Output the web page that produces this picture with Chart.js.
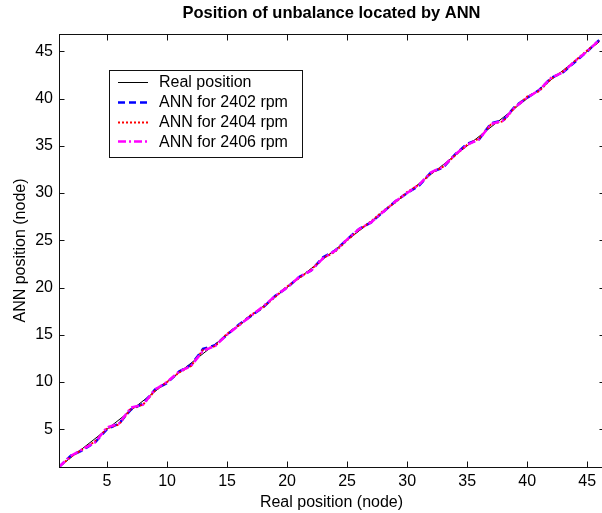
<!DOCTYPE html>
<html>
<head>
<meta charset="utf-8">
<script src="https://cdn.jsdelivr.net/npm/chart.js"></script>
<style>
  html, body { margin: 0; padding: 0; background: #fff; overflow: hidden; }
  #wrap { width: 610px; height: 513px; position: relative; }
</style>
</head>
<body>
<div id="wrap"><canvas id="chart"></canvas></div>
<script>
// node numbers (x) and the positions
const nodes = [1, 2, 3, 4, 5, 6, 7, 8, 9, 10, 11, 12, 13, 14, 15, 16, 17, 18, 19, 20, 21, 22, 23,
    24, 25, 26, 27, 28, 29, 30, 31, 32, 33, 34, 35, 36, 37, 38, 39, 40, 41, 42, 43, 44, 45, 46];
const realPosition = [1, 2, 3, 4, 5, 6, 7, 8, 9, 10, 11, 12, 13, 14, 15, 16, 17, 18, 19, 20, 21, 22, 23,
    24, 25, 26, 27, 28, 29, 30, 31, 32, 33, 34, 35, 36, 37, 38, 39, 40, 41, 42, 43, 44, 45, 46];
const ann2402 = [1.0, 2.2, 2.8, 3.6, 5.0, 5.6, 7.1, 7.7, 9.2, 9.9, 11.1, 11.8, 13.5, 13.9, 15.0, 16.1,
    17.0, 17.9, 19.1, 20.0, 21.1, 21.8, 23.2, 23.9, 25.1, 26.2, 26.9, 28.0, 29.1, 30.0, 30.8, 32.2,
    32.7, 34.1, 35.2, 35.7, 37.4, 37.7, 39.2, 40.1, 40.9, 42.2, 42.8, 43.9, 45.0, 46.2];
const ann2404 = [1.0, 2.1, 2.9, 3.7, 5.1, 5.5, 7.2, 7.6, 9.1, 10.0, 11.0, 11.7, 13.4, 13.8, 15.1, 16.0,
    17.1, 17.9, 19.0, 20.1, 21.0, 21.9, 23.1, 23.8, 25.0, 26.1, 27.0, 28.1, 29.0, 30.1, 30.9, 32.1,
    32.8, 34.0, 35.1, 35.8, 37.3, 37.6, 39.1, 40.2, 40.8, 42.1, 42.9, 44.0, 45.1, 46.1];
const ann2406 = [1.0, 2.2, 2.9, 3.6, 5.2, 5.6, 7.3, 7.6, 9.2, 10.0, 11.1, 11.7, 13.3, 13.8, 15.0, 16.0,
    17.0, 18.0, 19.1, 20.0, 21.1, 21.8, 23.1, 23.9, 25.1, 26.2, 26.9, 28.0, 29.1, 30.0, 30.9, 32.2,
    32.8, 34.1, 35.1, 35.7, 37.3, 37.7, 39.1, 40.1, 40.9, 42.2, 42.8, 44.0, 45.0, 46.2];

const xTicks = [5, 10, 15, 20, 25, 30, 35, 40, 45];
const yTicks = [5, 10, 15, 20, 25, 30, 35, 40, 45];
const seriesLabels = ['Real position', 'ANN for 2402 rpm', 'ANN for 2404 rpm', 'ANN for 2406 rpm'];

const FONT = "'Liberation Sans', Arial, sans-serif";

function toPoints(values) {
    return nodes.map((n, i) => ({ x: n, y: values[i] }));
}

// MATLAB style box with inward tick marks
const boxPlugin = {
    id: 'box',
    afterDatasetsDraw(chart) {
        const { ctx, chartArea: a, scales } = chart;
        const l = Math.round(a.left) + 0.5, r = Math.round(a.right) + 0.5;
        const t = Math.round(a.top) + 0.5, b = Math.round(a.bottom) + 0.5;
        ctx.save();
        ctx.strokeStyle = '#111';
        ctx.lineWidth = 1;
        ctx.strokeRect(l, t, r - l, b - t);
        ctx.beginPath();
        xTicks.forEach(v => {
            const x = Math.round(scales.x.getPixelForValue(v)) + 0.5;
            ctx.moveTo(x, b); ctx.lineTo(x, b - 6);
            ctx.moveTo(x, t); ctx.lineTo(x, t + 6);
        });
        yTicks.forEach(v => {
            const y = Math.round(scales.y.getPixelForValue(v)) + 0.5;
            ctx.moveTo(l, y); ctx.lineTo(l + 5, y);
            ctx.moveTo(r, y); ctx.lineTo(r - 5, y);
        });
        ctx.stroke();
        ctx.restore();
    }
};

// legend box drawn inside the axes, like the original
const legendPlugin = {
    id: 'insideLegend',
    afterDraw(chart) {
        const ctx = chart.ctx;
        const bx = 109.5, by = 70.5, bw = 193, bh = 87;
        ctx.save();
        ctx.fillStyle = '#fff';
        ctx.fillRect(bx, by, bw, bh);
        ctx.strokeStyle = '#111';
        ctx.lineWidth = 1;
        ctx.strokeRect(bx, by, bw, bh);
        ctx.font = '16px ' + FONT;
        ctx.textBaseline = 'middle';
        ctx.textAlign = 'left';
        chart.data.datasets.forEach((ds, i) => {
            const y = 82 + i * 19.8;
            ctx.beginPath();
            ctx.strokeStyle = ds.borderColor;
            ctx.lineWidth = ds.borderWidth;
            ctx.setLineDash(ds.borderDash || []);
            ctx.moveTo(118, Math.round(y) + 0.5);
            ctx.lineTo(148, Math.round(y) + 0.5);
            ctx.stroke();
            ctx.setLineDash([]);
            ctx.fillStyle = '#000';
            ctx.fillText(ds.label, 159, y + 1);
        });
        ctx.restore();
    }
};

new Chart(document.getElementById('chart'), {
    type: 'line',
    data: {
        datasets: [
            { label: seriesLabels[0], data: toPoints(realPosition), borderColor: '#000000', borderWidth: 1, order: 4 },
            { label: seriesLabels[1], data: toPoints(ann2402), borderColor: '#0000ff', borderWidth: 2.5, borderDash: [7, 4], order: 3 },
            { label: seriesLabels[2], data: toPoints(ann2404), borderColor: '#ff0000', borderWidth: 2, borderDash: [2, 2], order: 2 },
            { label: seriesLabels[3], data: toPoints(ann2406), borderColor: '#ff00ff', borderWidth: 2.5, borderDash: [8, 3, 2, 3], order: 1 }
        ]
    },
    options: {
        responsive: true,
        maintainAspectRatio: false,
        animation: false,
        layout: { padding: { left: 0, right: 6, top: 0, bottom: 0 } },
        elements: { point: { radius: 0 }, line: { tension: 0 } },
        plugins: {
            legend: { display: false },
            tooltip: { enabled: false },
            title: {
                display: true,
                fullSize: false,
                text: 'Position of unbalance located by ANN',
                color: '#000',
                font: { family: FONT, size: 16.5, weight: 'bold' },
                padding: { top: 4, bottom: 10.2 }
            }
        },
        scales: {
            x: {
                type: 'linear',
                min: 1,
                max: 46.4,
                afterBuildTicks: s => { s.ticks = xTicks.map(v => ({ value: v })); },
                afterFit: s => { s.height = 46; },
                grid: { display: false, drawTicks: false },
                border: { display: false },
                ticks: { color: '#000', padding: 5, maxRotation: 0, font: { family: FONT, size: 16 } },
                title: {
                    display: true,
                    text: 'Real position (node)',
                    color: '#000',
                    font: { family: FONT, size: 16 },
                    padding: { top: 0, bottom: 1 }
                }
            },
            y: {
                type: 'linear',
                min: 1,
                max: 46.84,
                afterBuildTicks: s => { s.ticks = yTicks.map(v => ({ value: v })); },
                afterFit: s => { s.width = 59; },
                grid: { display: false, drawTicks: false },
                border: { display: false },
                ticks: { color: '#000', padding: 6, font: { family: FONT, size: 16 } },
                title: {
                    display: true,
                    text: 'ANN position (node)',
                    color: '#000',
                    font: { family: FONT, size: 16 },
                    padding: { top: 11, bottom: 0 }
                }
            }
        }
    },
    plugins: [boxPlugin, legendPlugin]
});
</script>
</body>
</html>
